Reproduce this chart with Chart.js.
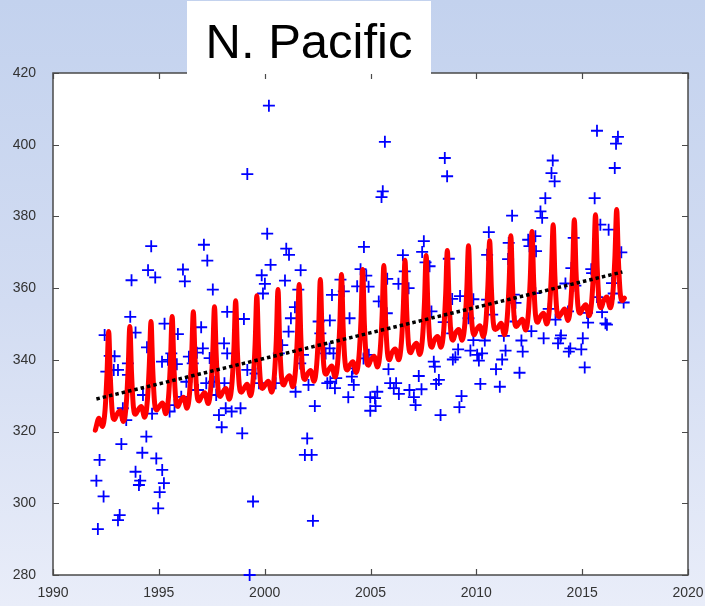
<!DOCTYPE html>
<html>
<head>
<meta charset="utf-8">
<script src="https://cdn.jsdelivr.net/npm/chart.js@4.4.0/dist/chart.umd.min.js"></script>
<style>
html,body{margin:0;padding:0;}
body{width:705px;height:606px;overflow:hidden;position:relative;
  background:linear-gradient(to bottom,#c3d2ee 0%,#d2dcf2 50%,#e9edf9 100%);
  font-family:"Liberation Sans",Arial,sans-serif;}
#wrap{position:absolute;left:0;top:0;width:705px;height:606px;}
#title{position:absolute;left:187px;top:1px;width:244px;height:73px;background:#fff;
  text-align:center;font-size:49px;line-height:80px;color:#000;z-index:2;overflow:hidden;
  font-family:"Liberation Sans",Arial,sans-serif;}
</style>
</head>
<body>
<div id="wrap"><canvas id="c" width="705" height="606"></canvas></div>
<div id="title">N. Pacific</div>
<script>
// ---- data ----
const titleText = "N. Pacific";
const xTicks = [1990, 1995, 2000, 2005, 2010, 2015, 2020];
const yTicks = [280, 300, 320, 340, 360, 380, 400, 420];

// observations (blue +)
const obsYears = [
 1992.05,1992.12,1992.20,1992.39,1992.44,1992.52,1992.68,1992.87,1992.91,1993.07,
 1993.07,1993.15,1993.23,1993.30,1993.46,1993.54,1993.54,1993.65,1993.71,1993.90,
 1993.90,1994.06,1994.12,1994.22,1994.25,1994.41,1994.44,1994.49,1994.64,1994.68,
 1994.83,1994.88,1994.97,1995.04,1995.15,1995.16,1995.24,1995.27,1995.43,1995.51,
 1995.59,1995.74,1995.85,1995.90,1996.06,1996.14,1996.23,1996.30,1996.42,1996.60,
 1996.80,1996.85,1997.00,1997.08,1997.13,1997.24,1997.29,1997.40,1997.55,1997.60,
 1997.71,1997.84,1997.97,1998.08,1998.10,1998.16,1998.23,1998.23,1998.44,1998.86,
 1998.94,1999.02,1999.18,1999.18,1999.29,1999.45,1999.57,1999.73,1999.86,1999.92,
 2000.01,2000.12,2000.20,2000.28,2000.52,2000.67,2000.83,2000.96,2001.02,2001.13,
 2001.15,2001.24,2001.43,2001.46,2001.59,2001.68,2001.70,2001.81,2001.90,2002.01,
 2002.07,2002.22,2002.28,2002.37,2002.55,2002.63,2002.88,2002.96,2003.07,2003.08,
 2003.10,2003.18,2003.25,2003.32,2003.38,2003.58,2003.74,2003.95,2004.01,2004.12,
 2004.17,2004.21,2004.37,2004.53,2004.67,2004.69,2004.80,2004.91,2004.92,2004.99,
 2004.99,2005.21,2005.24,2005.32,2005.39,2005.52,2005.58,2005.68,2005.77,2005.79,
 2005.85,2005.93,2006.10,2006.21,2006.32,2006.34,2006.53,2006.62,2006.80,2006.84,
 2007.05,2007.13,2007.28,2007.41,2007.44,2007.52,2007.60,2007.79,2007.88,2007.99,
 2008.04,2008.10,2008.23,2008.31,2008.46,2008.51,2008.62,2008.70,2008.86,2008.86,
 2008.89,2009.01,2009.14,2009.20,2009.23,2009.30,2009.63,2009.72,2009.86,2009.86,
 2010.04,2010.12,2010.19,2010.27,2010.40,2010.51,2010.51,2010.59,2010.75,2010.93,
 2011.11,2011.22,2011.30,2011.38,2011.50,2011.53,2011.69,2011.77,2011.85,2011.85,
 2012.04,2012.13,2012.19,2012.45,2012.51,2012.60,2012.79,2012.82,2012.79,2013.03,
 2013.11,2013.18,2013.26,2013.42,2013.55,2013.61,2013.70,2013.74,2013.86,2013.97,
 2014.00,2014.21,2014.33,2014.37,2014.44,2014.49,2014.60,2014.68,2014.96,2015.03,
 2015.12,2015.23,2015.28,2015.43,2015.47,2015.59,2015.70,2015.70,2015.86,2015.94,
 2016.10,2016.17,2016.25,2016.41,2016.49,2016.54,2016.60,2016.69,2016.85,2016.96
];
const obsValues = [
 306.3,292.8,312.1,301.9,346.9,336.7,341.1,337.2,341.0,337.2,
 295.3,296.7,316.5,326.5,323.2,339.0,335.8,352.0,362.2,347.6,
 308.8,305.1,306.3,314.1,330.2,318.6,343.5,365.0,371.7,325.0,
 363.0,312.5,298.6,303.1,339.5,309.3,305.6,350.1,340.0,325.6,
 341.8,327.4,338.8,347.2,329.7,365.2,361.9,333.9,340.9,339.0,
 342.0,331.6,349.1,343.2,372.1,333.5,367.7,340.5,359.6,333.9,
 330.2,324.6,321.2,344.6,333.5,326.5,341.8,353.4,325.6,326.5,
 319.5,351.4,337.2,391.8,280.0,300.5,336.2,333.5,363.6,358.5,
 361.2,375.2,410.9,366.5,333.5,341.8,344.1,362.1,371.0,347.9,
 369.3,351.6,354.7,331.1,359.6,339.0,365.0,341.4,313.5,318.1,
 333.0,313.5,295.1,327.1,350.7,347.4,341.8,333.5,343.2,351.0,
 333.9,358.1,341.8,332.1,334.9,362.4,359.1,329.6,351.6,335.3,
 337.6,333.0,360.5,365.3,340.4,371.5,363.5,360.4,341.4,329.6,
 325.8,329.3,327.1,331.1,356.3,385.4,387.0,400.8,353.0,362.6,
 337.4,333.5,332.1,333.5,361.2,330.5,369.2,364.7,360.0,331.6,
 329.6,327.4,335.5,331.8,370.1,373.1,367.2,366.1,353.5,339.5,
 338.1,333.3,334.4,324.6,350.5,396.3,391.2,368.2,357.0,347.4,
 340.1,340.7,342.9,326.8,357.8,329.9,351.6,342.6,356.9,345.5,
 341.4,339.8,333.3,341.8,345.4,356.8,369.3,375.6,352.6,337.4,
 332.5,340.1,346.7,342.6,368.1,372.6,380.2,358.2,355.9,350.7,
 336.4,345.4,342.3,373.5,371.7,348.0,374.5,370.3,358.6,381.4,
 379.6,346.0,385.1,354.2,392.1,395.6,389.8,351.2,344.6,346.0,
 346.8,361.3,353.5,342.3,343.2,365.6,374.0,360.7,342.9,346.0,
 337.9,353.1,350.4,365.3,364.2,385.1,403.9,357.5,377.7,353.3,
 350.2,349.8,376.3,361.4,358.5,393.5,400.3,402.2,370.0,356.0
];

// seasonal model curve (red): one row of values per year at the listed phases
const redYears = [1992,1993,1994,1995,1996,1997,1998,1999,2000,2001,2002,2003,2004,
                  2005,2006,2007,2008,2009,2010,2011,2012,2013,2014,2015,2016];
const redPhase = [0.00, 0.17, 0.33, 0.46, 0.55, 0.63, 0.71, 0.80, 0.90];
const redRows = [
 [320.4,323.7,321.4,326.0,336.0,347.9,335.0,325.4,323.4],
 [324.6,325.8,322.8,327.6,337.4,349.3,336.4,326.8,324.8],
 [325.8,327.0,324.0,328.8,338.6,350.7,337.6,328.0,326.0],
 [326.8,328.0,325.0,329.8,339.6,352.1,338.6,329.0,327.0],
 [328.3,329.6,326.5,331.3,341.1,353.4,340.1,330.5,328.5],
 [329.6,330.8,327.8,332.6,342.4,354.8,341.4,331.8,329.8],
 [330.8,332.0,329.0,333.8,343.6,356.5,342.6,333.0,331.0],
 [331.8,333.2,330.0,334.8,344.6,357.9,343.6,334.0,332.0],
 [332.8,334.0,331.0,335.8,345.6,359.6,344.6,335.0,333.0],
 [334.3,335.6,332.5,337.3,347.1,361.0,346.1,336.5,334.5],
 [335.8,337.0,334.0,338.8,348.6,362.4,347.6,338.0,336.0],
 [337.0,338.3,335.2,340.0,349.8,363.8,348.8,339.2,337.2],
 [338.3,339.5,336.5,341.3,351.1,365.2,350.1,340.5,338.5],
 [339.8,341.0,338.0,342.8,352.6,366.3,351.6,342.0,340.0],
 [341.8,343.0,340.0,344.8,354.6,367.8,353.6,344.0,342.0],
 [343.3,344.6,341.5,346.3,356.1,369.1,355.1,345.5,343.5],
 [345.3,346.5,343.5,348.3,358.1,370.5,357.1,347.5,345.5],
 [347.3,348.5,345.5,350.3,359.6,371.8,358.6,349.5,347.0],
 [348.3,349.5,346.5,351.3,361.1,373.2,360.1,350.5,348.5],
 [348.8,350.2,347.0,351.8,361.6,374.6,360.6,351.0,349.3],
 [350.1,351.3,348.3,353.1,362.9,375.8,361.9,352.3,350.5],
 [351.8,353.0,350.0,354.8,364.6,377.7,363.6,354.0,352.0],
 [352.8,354.2,351.0,355.8,365.6,379.1,364.6,355.0,353.0],
 [354.1,355.4,352.3,357.1,366.9,380.5,365.9,356.3,354.5],
 [356.3,357.5,354.5,359.3,369.1,381.9,368.1,358.5,356.5]
];
const redEndYear = 2017.0;
const redEndValue = 357.2;

// linear trend (black dotted)
const trendYears = [1992.05, 2016.90];
const trendValues = [329.1, 364.5];

// ---- build datasets ----
const obsData = obsYears.map((x, i) => ({x: x, y: obsValues[i]}));
const redData = [];
redYears.forEach((yr, r) => {
  redPhase.forEach((ph, k) => redData.push({x: yr + ph, y: redRows[r][k]}));
});
redData.push({x: redEndYear, y: redEndValue});
const trendData = trendYears.map((x, i) => ({x: x, y: trendValues[i]}));

const FONT = '"Liberation Sans", Arial, sans-serif';
const frameColor = '#4a4a4a';

const framePlugin = {
  id: 'frame',
  beforeDatasetsDraw(chart) {
    const {ctx, chartArea: a, scales} = chart;
    const xs = scales.x, ys = scales.y;
    ctx.save();
    ctx.fillStyle = '#ffffff';
    ctx.fillRect(a.left, a.top, a.right - a.left, a.bottom - a.top);
    ctx.strokeStyle = frameColor;
    ctx.lineWidth = 1.5;
    ctx.strokeRect(a.left, a.top, a.right - a.left, a.bottom - a.top);
    ctx.lineWidth = 1.2;
    ctx.beginPath();
    const tl = 6;
    xTicks.forEach(v => {
      const px = Math.round(xs.getPixelForValue(v)) + 0.5;
      ctx.moveTo(px, a.bottom); ctx.lineTo(px, a.bottom - tl);
      ctx.moveTo(px, a.top); ctx.lineTo(px, a.top + tl);
    });
    yTicks.forEach(v => {
      const py = Math.round(ys.getPixelForValue(v)) + 0.5;
      ctx.moveTo(a.left, py); ctx.lineTo(a.left + tl, py);
      ctx.moveTo(a.right, py); ctx.lineTo(a.right - tl, py);
    });
    ctx.stroke();
    ctx.restore();
  }
};

new Chart(document.getElementById('c').getContext('2d'), {
  type: 'scatter',
  data: {
    datasets: [
      {label: 'trend', data: trendData, showLine: true, borderColor: '#000000',
       borderWidth: 3.5, borderDash: [3.5, 3], pointRadius: 0, fill: false},
      {label: 'model', data: redData, showLine: true, borderColor: '#ff0000',
       borderWidth: 5, pointRadius: 0, fill: false, cubicInterpolationMode: 'monotone',
       borderJoinStyle: 'round', borderCapStyle: 'round'},
      {label: 'obs', data: obsData, pointStyle: 'cross', pointRadius: 6,
       borderColor: '#0000ff', backgroundColor: '#0000ff', borderWidth: 1.8, clip: false}
    ]
  },
  options: {
    responsive: false, animation: false, events: [],
    layout: {padding: {top: 73, right: 17, left: 0, bottom: 0}},
    plugins: {legend: {display: false}, tooltip: {enabled: false}, title: {display: false}},
    scales: {
      x: {
        type: 'linear', min: 1990, max: 2020,
        afterBuildTicks: s => { s.ticks = xTicks.map(v => ({value: v})); },
        afterFit: s => { s.height = 31; s.paddingLeft = 0; s.paddingRight = 0; },
        grid: {display: false, drawTicks: false, tickLength: 0},
        border: {display: false},
        ticks: {padding: 10, color: '#333333', font: {family: FONT, size: 14},
                maxRotation: 0, autoSkip: false, callback: v => String(v)}
      },
      y: {
        type: 'linear', min: 280, max: 420,
        afterBuildTicks: s => { s.ticks = yTicks.map(v => ({value: v})); },
        afterFit: s => { s.width = 53; s.paddingTop = 0; s.paddingBottom = 0; },
        grid: {display: false, drawTicks: false, tickLength: 0},
        border: {display: false},
        ticks: {padding: 17, color: '#333333', font: {family: FONT, size: 14},
                autoSkip: false, callback: v => String(v)}
      }
    }
  },
  plugins: [framePlugin]
});
document.getElementById('title').textContent = titleText;
</script>
</body>
</html>
